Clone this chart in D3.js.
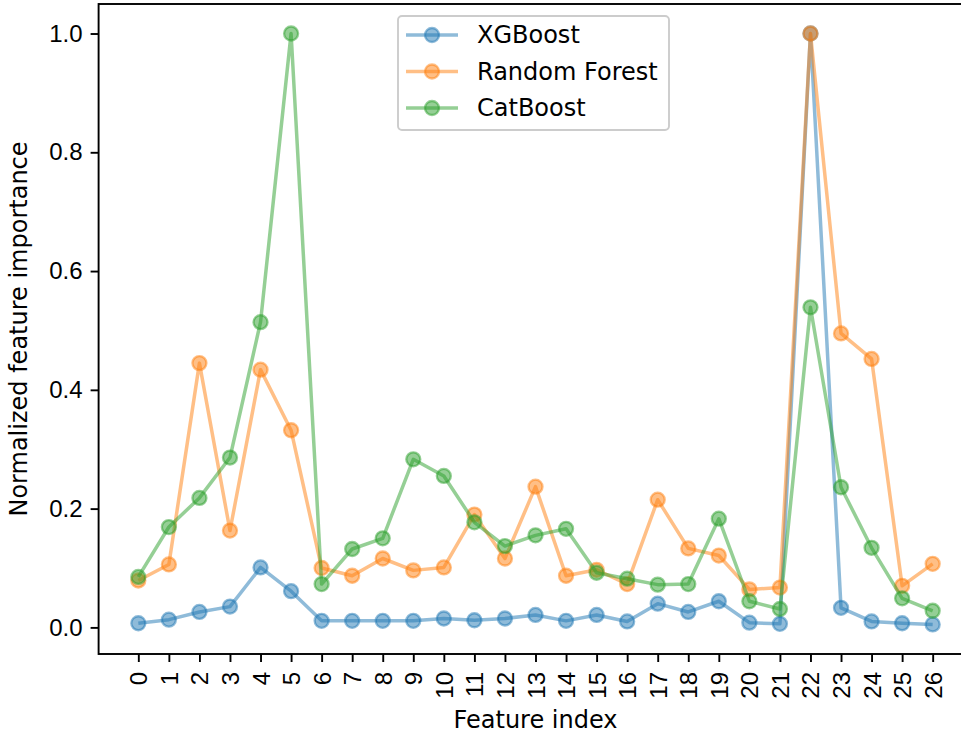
<!DOCTYPE html>
<html>

<head>
    <meta charset="utf-8">
    <style>
        body {
            margin: 0;
            background: white;
        }

        svg {
            font-family: 'DejaVu Sans', sans-serif;
            display: block;
        }
    </style>
</head>

<body>
    <svg width="961" height="736"></svg>
</body>

<script src="https://d3js.org/d3.v7.min.js"></script>

<script>
    // feature indices 0..26
    let features = d3.range(27)

    let xgboost = [0.007, 0.013, 0.026, 0.035, 0.101, 0.061, 0.011, 0.011, 0.011, 0.011,
        0.015, 0.012, 0.015, 0.021, 0.011, 0.021, 0.010, 0.040, 0.026, 0.044,
        0.008, 0.006, 1.0, 0.033, 0.010, 0.007, 0.005]

    let randomForest = [0.079, 0.106, 0.445, 0.163, 0.434, 0.332, 0.100, 0.087, 0.116, 0.096,
        0.101, 0.190, 0.116, 0.237, 0.087, 0.097, 0.073, 0.215, 0.133, 0.121,
        0.064, 0.067, 1.0, 0.495, 0.452, 0.070, 0.107]

    let catboost = [0.085, 0.169, 0.218, 0.286, 0.514, 1.0, 0.073, 0.132, 0.150, 0.283,
        0.255, 0.177, 0.137, 0.155, 0.166, 0.092, 0.082, 0.072, 0.073, 0.183,
        0.044, 0.031, 0.539, 0.236, 0.134, 0.049, 0.028]

    let seriesNames = ["XGBoost", "Random Forest", "CatBoost"]
    let seriesColors = ["#1f77b4", "#ff7f0e", "#2ca02c"]
    let yTicks = [0.0, 0.2, 0.4, 0.6, 0.8, 1.0]

    let series = [xgboost, randomForest, catboost].map((vals, i) => ({
        name: seriesNames[i],
        color: seriesColors[i],
        values: vals.map((v, j) => ({ x: features[j], y: v }))
    }))

    let svg = d3.select('body').select('svg')
    let fontSize = 24

    let margin = { top: 4, right: -11.4, bottom: 82, left: 98.6 }
    let width = 961
    let height = 736

    // matplotlib-style 5% margins on the data range
    let x = d3.scaleLinear()
        .domain([-1.3, 27.3])
        .range([margin.left, width - margin.right])

    let y = d3.scaleLinear()
        .domain([-0.0448, 1.0497])
        .range([height - margin.bottom, margin.top])

    let plot = svg.append("g")

    let line = d3.line()
        .x(d => x(d.x))
        .y(d => y(d.y))

    series.forEach(s => {
        let g = plot.append("g")
        g.append("path")
            .datum(s.values)
            .attr("d", line)
            .attr("fill", "none")
            .attr("stroke", s.color)
            .attr("stroke-opacity", 0.5)
            .attr("stroke-width", 3.5)
            .attr("stroke-linejoin", "round")

        g.selectAll("circle")
            .data(s.values)
            .join("circle")
            .attr("cx", d => x(d.x))
            .attr("cy", d => y(d.y))
            .attr("r", 7)
            .attr("fill", s.color)
            .attr("fill-opacity", 0.5)
            .attr("stroke", s.color)
            .attr("stroke-opacity", 0.5)
            .attr("stroke-width", 2.3)
    })

    // axes
    let xAxis = d3.axisBottom(x)
        .tickValues(features)
        .tickFormat(d3.format("d"))
        .tickSize(8)
        .tickPadding(8)

    let yAxis = d3.axisLeft(y)
        .tickValues(yTicks)
        .tickFormat(d3.format(".1f"))
        .tickSize(8)
        .tickPadding(8)

    let gx = svg.append("g")
        .attr("transform", `translate(0,${height - margin.bottom})`)
        .call(xAxis)

    gx.selectAll("text")
        .attr("font-size", fontSize)
        .attr("fill", "black")
        .attr("text-anchor", "end")
        .attr("dominant-baseline", "central")
        .attr("dy", null)
        .attr("y", 0)
        .attr("transform", "translate(0,18) rotate(-90)")

    let gy = svg.append("g")
        .attr("transform", `translate(${margin.left},0)`)
        .call(yAxis)

    gy.selectAll("text")
        .attr("font-size", fontSize)
        .attr("fill", "black")

    svg.selectAll(".domain").remove()
    svg.selectAll(".tick line").attr("stroke", "black").attr("stroke-width", 1.9)

    // spines
    let x0 = margin.left, x1 = width - margin.right
    let y0 = margin.top, y1 = height - margin.bottom
    svg.append("rect")
        .attr("x", x0)
        .attr("y", y0)
        .attr("width", x1 - x0)
        .attr("height", y1 - y0)
        .attr("fill", "none")
        .attr("stroke", "black")
        .attr("stroke-width", 1.9)

    // axis labels
    svg.append("text")
        .attr("x", (x0 + x1) / 2)
        .attr("y", 728)
        .attr("text-anchor", "middle")
        .attr("font-size", fontSize)
        .text("Feature index")

    svg.append("text")
        .attr("transform", `translate(27,${(y0 + y1) / 2}) rotate(-90)`)
        .attr("text-anchor", "middle")
        .attr("font-size", fontSize)
        .text("Normalized feature importance")

    // legend
    let legend = svg.append("g")
    legend.append("rect")
        .attr("x", 398)
        .attr("y", 16)
        .attr("width", 271)
        .attr("height", 114)
        .attr("rx", 4)
        .attr("fill", "white")
        .attr("fill-opacity", 0.8)
        .attr("stroke", "#cccccc")
        .attr("stroke-width", 1.9)

    series.forEach((s, i) => {
        let ly = 35 + i * 36.5
        legend.append("line")
            .attr("x1", 406).attr("x2", 458)
            .attr("y1", ly).attr("y2", ly)
            .attr("stroke", s.color)
            .attr("stroke-opacity", 0.5)
            .attr("stroke-width", 3.5)
        legend.append("circle")
            .attr("cx", 432)
            .attr("cy", ly)
            .attr("r", 7)
            .attr("fill", s.color)
            .attr("fill-opacity", 0.5)
            .attr("stroke", s.color)
            .attr("stroke-opacity", 0.5)
            .attr("stroke-width", 2.3)
        legend.append("text")
            .attr("x", 477)
            .attr("y", ly)
            .attr("dominant-baseline", "central")
            .attr("font-size", fontSize)
            .text(s.name)
    })
</script>

</html>
